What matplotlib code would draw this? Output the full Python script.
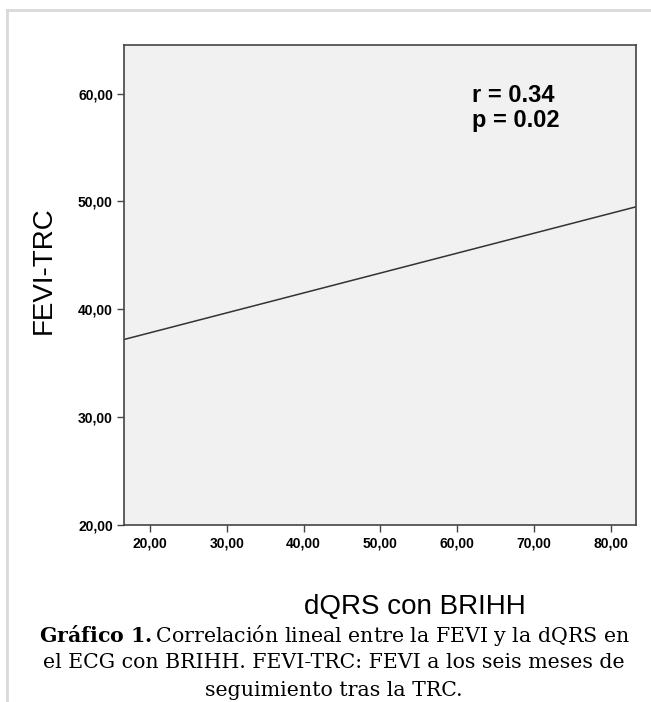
import matplotlib
matplotlib.use("Agg")
import matplotlib.pyplot as plt
from matplotlib.lines import Line2D

# Datos
x_ticks = [20, 30, 40, 50, 60, 70, 80]
y_ticks = [20, 30, 40, 50, 60]
fit_x = [16.6, 83.3]      # recta de regresión (extremos del eje)
fit_y = [37.2, 49.5]
r_valor = 0.34
p_valor = 0.02

caption = ["Correlación lineal entre la FEVI y la dQRS en",
           "el ECG con BRIHH. FEVI-TRC: FEVI a los seis meses de",
           "seguimiento tras la TRC."]

plt.rcParams["mathtext.fontset"] = "custom"
plt.rcParams["mathtext.bf"] = "DejaVu Serif:bold"
plt.rcParams["mathtext.rm"] = "DejaVu Serif"

fig = plt.figure(figsize=(6.51, 7.02), dpi=100)
ax = fig.add_axes([0.1905, 0.2521, 0.7865, 0.6838])
ax.set_facecolor("#f1f1f1")

ax.plot(fit_x, fit_y, color="#333333", lw=1.1)

ax.set_xlim(16.6, 83.3)
ax.set_ylim(20.0, 64.5)
ax.set_xticks(x_ticks)
ax.set_yticks(y_ticks)
ax.set_xticklabels([f"{v:.2f}".replace(".", ",") for v in x_ticks])
ax.set_yticklabels([f"{v:.2f}".replace(".", ",") for v in y_ticks])
ax.tick_params(length=5, width=1, color="#444444", labelsize=10, pad=3)
for lab in ax.get_xticklabels() + ax.get_yticklabels():
    lab.set_fontweight("bold")
    lab.set_family("Liberation Sans")
for s in ax.spines.values():
    s.set_color("#444444")
    s.set_linewidth(1.2)

ax.text(0.68, 0.868, f"r = {r_valor:.2f}\np = {p_valor:.2f}", transform=ax.transAxes,
        fontsize=17, fontweight="bold", family="Liberation Sans", va="center",
        ha="left", linespacing=1.1)

fig.text(44 / 651, 1 - 270 / 702, "FEVI-TRC", rotation=90, fontsize=20,
         family="Liberation Sans", ha="center", va="center")
fig.text(415 / 651, 1 - 607 / 702, "dQRS con BRIHH", fontsize=20,
         family="Liberation Sans", ha="center", va="center")

# Pie de figura
fig.text(334 / 651, 1 - 636 / 702, r"$\mathbf{Gráfico\ 1.}$" + caption[0],
         fontsize=14.8, family="DejaVu Serif", ha="center", va="center")
fig.text(334 / 651, 1 - 663 / 702, caption[1], fontsize=14.8,
         family="DejaVu Serif", ha="center", va="center")
fig.text(334 / 651, 1 - 690 / 702, caption[2], fontsize=14.8,
         family="DejaVu Serif", ha="center", va="center")

# Marco exterior gris claro
fig.add_artist(Line2D([7 / 651, 1], [1 - 10 / 702, 1 - 10 / 702], color="#d9d9d9", lw=2))
fig.add_artist(Line2D([7 / 651, 7 / 651], [0, 1 - 10 / 702], color="#d9d9d9", lw=2))

fig.savefig("out.png", dpi=100)
